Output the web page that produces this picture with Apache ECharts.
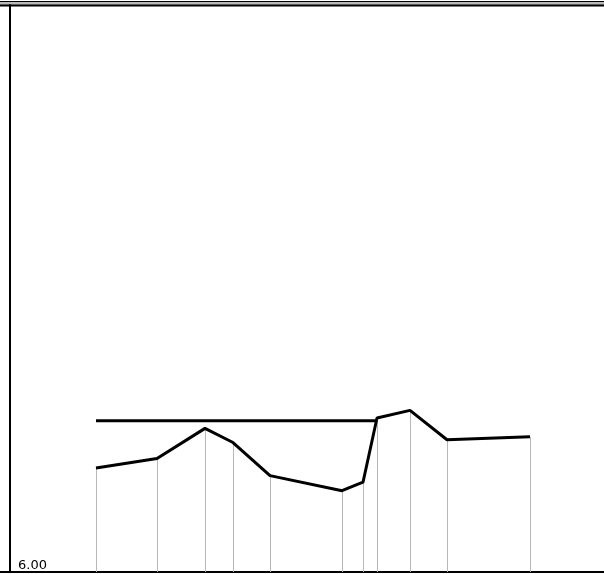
<!DOCTYPE html>
<html>
<head>
<meta charset="utf-8">
<script src="https://cdn.jsdelivr.net/npm/echarts@6/dist/echarts.min.js"></script>
<style>
html,body{margin:0;padding:0;background:#fff;}
#c{width:604px;height:574px;}
</style>
</head>
<body>
<div id="c"></div>
<script>
var xValues = [86, 147, 195, 223, 260, 332, 353, 367, 400, 437, 520];
var curveValues = [7.10, 7.20, 7.52, 7.37, 7.02, 6.86, 6.95, 7.63, 7.71, 7.40, 7.43];
var flatX = [86, 367];
var flatValues = [7.60, 7.60];
var yMin = 6, yMax = 12;
var yLabels = ['6.00'];

var chart = echarts.init(document.getElementById('c'));
var curve = xValues.map(function(x, i){ return [x, curveValues[i]]; });
var flat = flatX.map(function(x, i){ return [x, flatValues[i]]; });
var drops = curve.map(function(p){ return [{coord:[p[0], p[1]]}, {coord:[p[0], yMin]}]; });

chart.setOption({
  animation: false,
  grid: {left: 10, right: 0, top: 5, bottom: 2, show: false},
  xAxis: {type: 'value', min: 0, max: 594, show: false},
  yAxis: {
    type: 'value', min: yMin, max: yMax, interval: 6,
    axisLine: {show: true, lineStyle: {color: '#000', width: 2}},
    axisTick: {show: false},
    splitLine: {show: false},
    axisLabel: {
      inside: true, verticalAlign: 'bottom', color: '#000',
      fontFamily: 'DejaVu Sans', fontSize: 13, margin: 8,
      formatter: function(v){ return v === yMin ? yLabels[0] : ''; }
    }
  },
  graphic: [
    {type:'rect', shape:{x:0, y:2, width:604, height:3}, style:{fill:'#b8b8b8'}, silent:true},
    {type:'line', shape:{x1:0, y1:1.5, x2:604, y2:1.5}, style:{stroke:'#000', lineWidth:1}, silent:true},
    {type:'line', shape:{x1:0, y1:5.5, x2:604, y2:5.5}, style:{stroke:'#000', lineWidth:2}, silent:true},
    {type:'line', shape:{x1:0, y1:572, x2:604, y2:572}, style:{stroke:'#000', lineWidth:2}, silent:true}
  ],
  series: [
    {
      type: 'line', data: curve, symbol: 'none',
      lineStyle: {color: '#000', width: 3}, z: 3,
      markLine: {
        silent: true, symbol: ['none','none'], label: {show: false},
        lineStyle: {color: '#b8b8b8', width: 1, type: 'solid'},
        data: drops, z: 1
      }
    },
    {
      type: 'line', data: flat, symbol: 'none',
      lineStyle: {color: '#000', width: 3}, z: 3
    }
  ]
});
</script>
</body>
</html>
